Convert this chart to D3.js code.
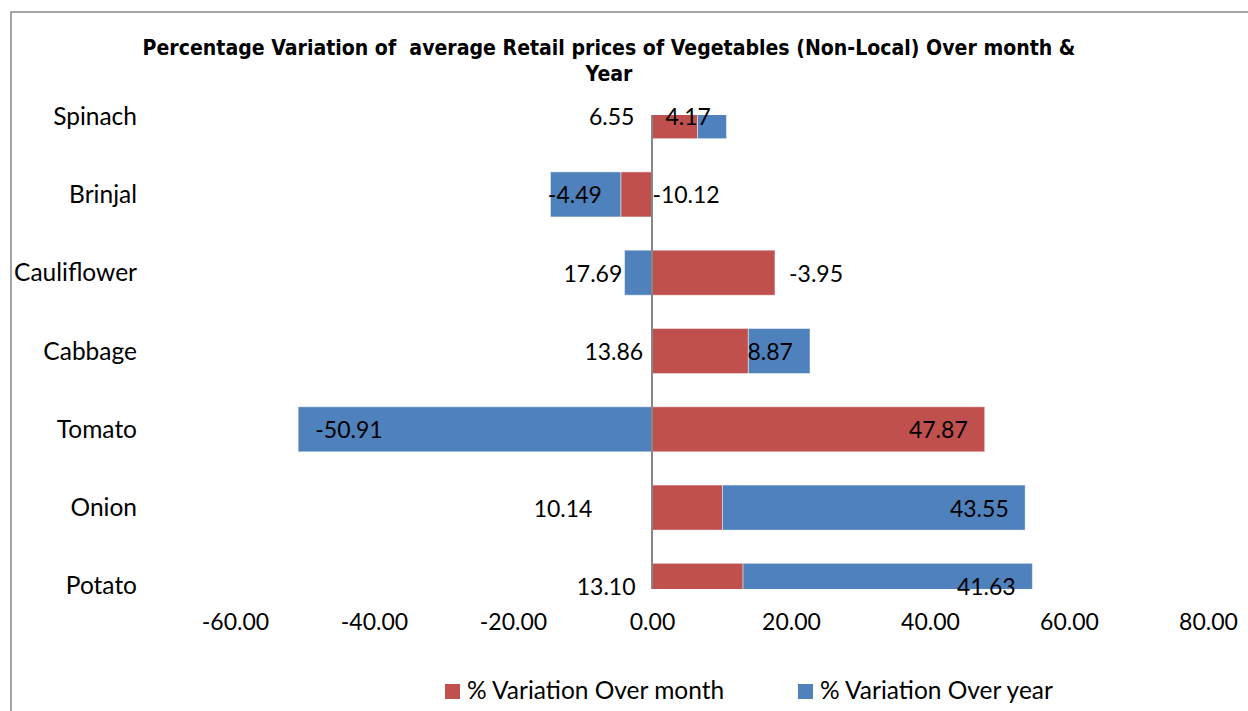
<!DOCTYPE html>
<html>
<head>
<meta charset="utf-8">
<script src="https://cdn.jsdelivr.net/npm/d3@7"></script>
<style>
  body { margin: 0; background: #fff; }
  text { font-family: Lato, "Noto Sans", sans-serif; fill: #000; }
</style>
</head>
<body>
<svg id="chart"></svg>
<script>
let w = 1248;
let h = 711;

// data
let categories = ["Spinach", "Brinjal", "Cauliflower", "Cabbage", "Tomato", "Onion", "Potato"];
let overMonth = [6.55, -4.49, 17.69, 13.86, 47.87, 10.14, 13.10];
let overYear = [4.17, -10.12, -3.95, 8.87, -50.91, 43.55, 41.63];
let seriesNames = ["% Variation Over month", "% Variation Over year"];
let xTicks = [-60, -40, -20, 0, 20, 40, 60, 80];

// where the data labels sit (in axis units), they were moved by hand in the original
let monthLabelAt = [-5.8, -11.1, -8.5, -5.5, 41.2, -12.8, -6.6];
let yearLabelAt = [5.2, 4.9, 23.6, 17.0, -43.6, 47.1, 48.1];

let colors = ["#C0504D", "#4F81BD"];

// plain hyphen for negatives, like the original
let fmt = (v) => d3.format(".2f")(v).replace("\u2212", "-");

let svg = d3.select("#chart")
  .attr("width", w)
  .attr("height", h);

// outer frame (only top & left show)
svg.append("path")
  .attr("d", "M11,711 V12 H1248")
  .attr("fill", "none")
  .attr("stroke", "#878787")
  .attr("stroke-width", 1.5);

// title
let title = svg.append("text")
  .attr("text-anchor", "middle")
  .style("white-space", "pre")
  .style("font-family", "'DejaVu Sans Condensed', 'DejaVu Sans', sans-serif")
  .style("font-weight", "bold");
title.append("tspan")
  .attr("x", 609).attr("y", 55)
  .text("Percentage Variation of  average Retail prices of Vegetables (Non-Local) Over month &");
title.append("tspan")
  .attr("x", 609).attr("y", 81)
  .text("Year");
// fit first line to original width
title.style("font-size", "18px");
let firstLen = title.select("tspan").node().getComputedTextLength();
title.style("font-size", (18 * 933 / firstLen).toFixed(2) + "px");

// scales
let xScale = d3.scaleLinear()
  .domain([-60, 80])
  .range([235, 1208]);

let yScale = d3.scaleBand()
  .domain(categories)
  .range([77, 625])
  .paddingInner(0.425)
  .paddingOuter(0.2125);

let rows = categories.map((c, i) => ({ cat: c, month: overMonth[i], year: overYear[i] }));

let stack = d3.stack()
  .keys(["month", "year"])
  .offset(d3.stackOffsetDiverging);
let stacked = stack(rows);

// plot area clip
svg.append("clipPath").attr("id", "plot")
  .append("rect")
  .attr("x", 0).attr("y", 115)
  .attr("width", w).attr("height", 474);

let plot = svg.append("g").attr("clip-path", "url(#plot)");

plot.selectAll("g.series")
  .data(stacked)
  .enter()
  .append("g")
  .attr("class", "series")
  .attr("fill", (d, i) => colors[i])
  .selectAll("rect")
  .data((d) => d)
  .enter()
  .append("rect")
  .attr("x", (d) => xScale(Math.min(d[0], d[1])))
  .attr("y", (d) => yScale(d.data.cat))
  .attr("width", (d) => Math.abs(xScale(d[1]) - xScale(d[0])))
  .attr("height", yScale.bandwidth())
  .attr("stroke", "#fff")
  .attr("stroke-opacity", 0.45)
  .attr("stroke-width", 1);

// zero line
svg.append("line")
  .attr("x1", xScale(0)).attr("x2", xScale(0))
  .attr("y1", 115).attr("y2", 589)
  .attr("stroke", "#878787")
  .attr("stroke-width", 2);

// data labels
let labelSize = "23px";
categories.forEach((c, i) => {
  let cy = yScale(c) + yScale.bandwidth() / 2 + 9;
  svg.append("text")
    .attr("x", xScale(monthLabelAt[i]))
    .attr("y", cy)
    .attr("text-anchor", "middle")
    .style("font-size", labelSize)
    .text(fmt(overMonth[i]));
  svg.append("text")
    .attr("x", xScale(yearLabelAt[i]))
    .attr("y", cy)
    .attr("text-anchor", "middle")
    .style("font-size", labelSize)
    .text(fmt(overYear[i]));
});

// category axis
let yAxis = d3.axisLeft(yScale).tickSize(0).tickPadding(0);
let yAxisGroup = svg.append("g")
  .attr("transform", "translate(137,0)")
  .call(yAxis);
yAxisGroup.select(".domain").remove();
yAxisGroup.selectAll("text")
  .style("font-family", "Lato, 'Noto Sans', sans-serif")
  .style("font-size", "24.5px")
  .attr("dy", "0.35em");

// value axis
let xAxis = d3.axisBottom(xScale)
  .tickValues(xTicks)
  .tickSize(0)
  .tickPadding(0)
  .tickFormat(fmt);
let xAxisGroup = svg.append("g")
  .attr("transform", "translate(0,610)")
  .call(xAxis);
xAxisGroup.select(".domain").remove();
xAxisGroup.selectAll("text")
  .style("font-family", "Lato, 'Noto Sans', sans-serif")
  .style("font-size", "23px")
  .attr("dy", "0.85em");

// legend
let legendX = [445, 798];
let legend = svg.append("g");
seriesNames.forEach((name, i) => {
  legend.append("rect")
    .attr("x", legendX[i]).attr("y", 684)
    .attr("width", 15).attr("height", 15)
    .attr("fill", colors[i]);
  legend.append("text")
    .attr("x", legendX[i] + 22).attr("y", 699)
    .style("font-size", "24.5px")
    .text(name);
});
</script>
</body>
</html>
